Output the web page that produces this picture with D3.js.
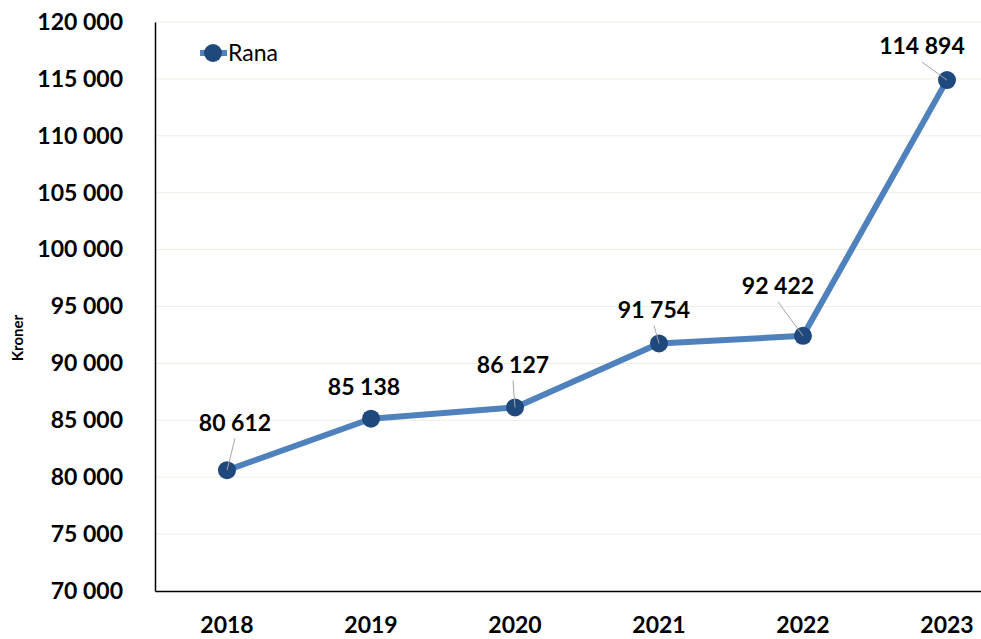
<!DOCTYPE html>
<html lang="no">
<head>
<meta charset="UTF-8">
<title>Rana - Kroner</title>
<style>
  body { margin: 0; background: #fff; }
  svg { display: block; font-family: Lato, "Open Sans", sans-serif; }
  .tick-txt { font-weight: bold; font-size: 23px; fill: #000; }
  .etikett { font-weight: bold; font-size: 23px; fill: #000; }
</style>
<script src="https://cdn.jsdelivr.net/npm/d3@7"></script>
</head>
<body>
<script>
// Data
var aar = ["2018", "2019", "2020", "2021", "2022", "2023"];
var verdier = [80612, 85138, 86127, 91754, 92422, 114894];
var yTikker = [70000, 75000, 80000, 85000, 90000, 95000, 100000, 105000, 110000, 115000, 120000];
var serieNavn = "Rana";

// Etikettplassering (forskyvning fra punktet)
var etikettDx = [8, -7, -2, -5, -25, -25];
var etikettDy = [-48, -32, -43, -34, -50, -34];

var bredde = 981, hoyde = 639;
var venstre = 155, topp = 22, bunn = 591, steg = 144;

var svg = d3.select("body").append("svg")
  .attr("width", bredde).attr("height", hoyde);

var x = d3.scaleBand().domain(aar).range([venstre, venstre + steg * aar.length]);
var y = d3.scaleLinear().domain([70000, 120000]).range([bunn, topp]);

var fmt = function(v) { return d3.format(",")(v).replace(/,/g, " "); };

// Rutenett
svg.append("g").selectAll("line").data(yTikker.filter(function(d) { return d > 70000; }))
  .enter().append("line")
  .attr("x1", venstre).attr("x2", bredde)
  .attr("y1", function(d) { return y(d); }).attr("y2", function(d) { return y(d); })
  .attr("stroke", "#efeee4").attr("stroke-width", 1);

// Y-akse
var yAkse = svg.append("g").attr("transform", "translate(" + venstre + ",0)")
  .call(d3.axisLeft(y).tickValues(yTikker).tickFormat(fmt).tickSize(0).tickPadding(32))
  .attr("font-family", null).attr("font-size", null);
yAkse.select(".domain").attr("stroke", "#000").attr("stroke-width", 1.5);
yAkse.selectAll("text").attr("class", "tick-txt");

// X-akse
var xAkse = svg.append("g").attr("transform", "translate(0," + bunn + ")")
  .call(d3.axisBottom(x).tickSize(0).tickPadding(26))
  .attr("font-family", null).attr("font-size", null);
xAkse.select(".domain").attr("stroke", "#000").attr("stroke-width", 1.5);
xAkse.selectAll("text").attr("class", "tick-txt");

// Aksetittel
svg.append("text")
  .attr("transform", "translate(23,338) rotate(-90)")
  .attr("text-anchor", "middle")
  .attr("font-weight", "bold").attr("font-size", 15)
  .text("Kroner");

var px = function(i) { return x(aar[i]) + x.bandwidth() / 2; };
var indekser = d3.range(verdier.length);

// Linje
var linje = d3.line()
  .x(function(d, i) { return px(i); })
  .y(function(d) { return y(d); });

svg.append("path").datum(verdier)
  .attr("d", linje)
  .attr("fill", "none")
  .attr("stroke", "#4f81bd")
  .attr("stroke-width", 6)
  .attr("stroke-linejoin", "round");

// Markorer
svg.append("g").selectAll("circle").data(verdier).enter().append("circle")
  .attr("cx", function(d, i) { return px(i); })
  .attr("cy", function(d) { return y(d); })
  .attr("r", 9)
  .attr("fill", "#1f497d");

// Ledelinjer
svg.append("g").selectAll("line")
  .data(indekser.filter(function(i) { return Math.abs(etikettDy[i]) > 33; }))
  .enter().append("line")
  .attr("x1", function(i) { return px(i) + etikettDx[i]; })
  .attr("y1", function(i) { return y(verdier[i]) + etikettDy[i] + 16; })
  .attr("x2", function(i) { return px(i); })
  .attr("y2", function(i) { return y(verdier[i]); })
  .attr("stroke", "#a6a6a6").attr("stroke-width", 1);

// Dataetiketter
svg.append("g").selectAll("text").data(verdier).enter().append("text")
  .attr("class", "etikett")
  .attr("x", function(d, i) { return px(i) + etikettDx[i]; })
  .attr("y", function(d, i) { return y(d) + etikettDy[i]; })
  .attr("dy", "0.36em")
  .attr("text-anchor", "middle")
  .text(fmt);

// Forklaring
var leg = svg.append("g");
leg.append("line").attr("x1", 200).attr("x2", 227).attr("y1", 53).attr("y2", 53)
  .attr("stroke", "#4f81bd").attr("stroke-width", 6);
leg.append("circle").attr("cx", 213).attr("cy", 53).attr("r", 9).attr("fill", "#1f497d");
leg.append("text").attr("x", 228).attr("y", 53).attr("dy", "0.36em")
  .attr("font-size", 23).text(serieNavn);
</script>
</body>
</html>
